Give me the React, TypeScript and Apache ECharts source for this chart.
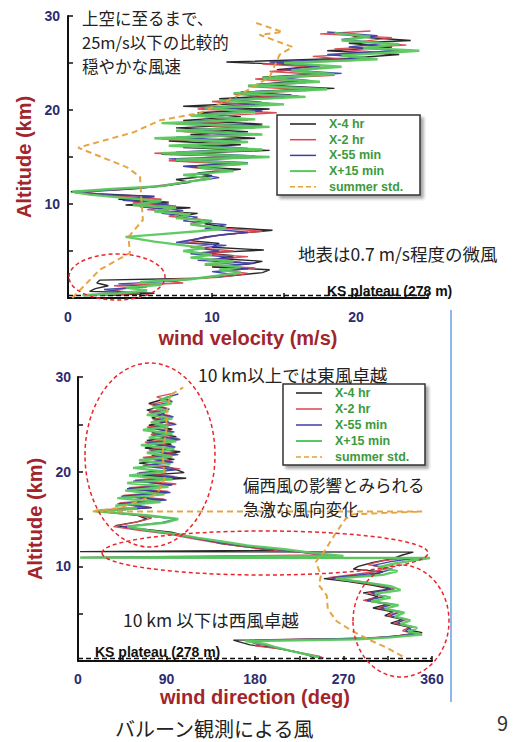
import React, { useEffect, useRef } from 'react';
import * as echarts from 'echarts';

// ---------- labels ----------
const seriesNames = ['X-4 hr', 'X-2 hr', 'X-55 min', 'X+15 min', 'summer std.'];
const seriesColors = ['#1e1e1e', '#d9434f', '#3c3fa8', '#58c95e', '#e3a13a'];
const velTickLabels = [0, 10, 20];
const dirTickLabels = [0, 90, 180, 270, 360];
const altTickLabels = [10, 20, 30];
const ksPlateauKm = 0.278;

// ---------- wind velocity [m/s, km] ----------
const velX4: number[][] = [[3.0,0.3],[6.0,0.5],[1.5,0.7],[1.9,1.0],[2.8,1.3],[2.0,1.6],[2.2,1.9],[9.0,2.1],[11.5,2.4],[13.5,2.7],[14.0,3.0],[10.0,3.3],[12.5,3.6],[13.5,3.9],[10.5,4.2],[11.5,4.5],[9.5,4.8],[13.6,5.1],[10.0,5.4],[10.5,5.8],[8.5,6.1],[9.5,6.5],[12.0,6.9],[14.2,7.2],[11.0,7.5],[9.5,7.9],[10.0,8.2],[7.5,8.6],[9.0,9.0],[6.0,9.3],[8.5,9.6],[4.0,9.9],[7.0,10.2],[3.5,10.5],[6.0,10.8],[2.0,11.1],[0.2,11.3],[4.0,11.6],[6.5,11.9],[8.5,12.3],[7.5,12.6],[10.0,13.0],[9.0,13.3],[12.0,13.7],[8.0,14.0],[11.5,14.3],[7.5,14.6],[13.5,15.0],[6.5,15.3],[14.0,15.7],[8.0,16.0],[12.0,16.3],[7.0,16.7],[13.0,17.0],[8.5,17.4],[12.5,17.7],[7.5,18.1],[13.5,18.5],[8.0,18.9],[12.0,19.3],[9.0,19.7],[14.0,20.1],[8.0,20.4],[13.5,20.8],[10.5,21.2],[15.5,21.6],[12.0,21.9],[18.5,22.3],[13.0,22.7],[16.0,23.1],[13.5,23.5],[18.0,23.9],[14.5,24.3],[17.5,24.7],[11.0,25.1],[19.5,25.5],[23.0,25.9],[18.0,26.3],[22.5,26.7],[19.5,27.1],[23.8,27.4],[20.0,27.8],[19.0,28.2]];
const velX2: number[][] = [[2.5,0.3],[5.0,0.5],[3.0,0.8],[4.5,1.1],[3.2,1.3],[8.0,1.6],[6.0,1.9],[10.5,2.2],[12.5,2.6],[11.0,2.9],[13.0,3.2],[9.5,3.5],[12.0,3.8],[10.0,4.1],[12.5,4.4],[9.0,4.7],[11.5,5.0],[8.5,5.4],[10.0,5.7],[8.0,6.0],[9.5,6.4],[11.0,6.8],[13.5,7.1],[10.0,7.5],[8.5,7.9],[9.5,8.3],[7.0,8.7],[8.0,9.1],[5.5,9.4],[7.5,9.8],[4.5,10.1],[6.5,10.5],[3.0,10.9],[0.5,11.2],[3.5,11.5],[6.0,11.9],[8.0,12.3],[9.5,12.7],[8.5,13.1],[11.0,13.5],[8.5,13.9],[12.0,14.2],[7.0,14.6],[12.5,15.0],[6.0,15.4],[13.0,15.7],[8.5,16.1],[11.5,16.5],[6.5,16.9],[12.0,17.3],[8.0,17.7],[13.0,18.1],[7.5,18.5],[12.5,18.9],[9.5,19.3],[14.5,19.7],[9.0,20.1],[13.0,20.5],[10.0,20.9],[15.0,21.3],[11.5,21.7],[17.0,22.1],[12.5,22.5],[16.5,22.9],[13.0,23.3],[18.5,23.7],[14.0,24.1],[18.0,24.5],[13.5,24.9],[20.0,25.3],[17.0,25.7],[22.0,26.1],[18.5,26.5],[23.5,26.9],[20.5,27.3],[22.5,27.7],[17.5,28.1],[21.0,28.4]];
const velX55: number[][] = [[1.5,0.3],[4.0,0.6],[2.5,0.9],[5.5,1.2],[3.5,1.5],[7.5,1.8],[9.5,2.2],[11.5,2.5],[10.0,2.8],[12.5,3.1],[10.5,3.4],[13.0,3.7],[9.0,4.0],[11.5,4.3],[8.5,4.7],[10.5,5.0],[9.0,5.3],[11.0,5.6],[7.5,5.9],[9.0,6.3],[10.5,6.7],[12.5,7.0],[9.5,7.4],[11.0,7.8],[8.0,8.2],[9.0,8.6],[6.5,9.0],[8.0,9.3],[5.0,9.7],[7.0,10.0],[3.8,10.4],[6.0,10.8],[2.5,11.0],[0.4,11.3],[4.5,11.6],[7.0,12.0],[8.5,12.4],[10.5,12.8],[9.0,13.2],[11.5,13.6],[8.0,14.0],[12.5,14.4],[7.0,14.8],[13.0,15.1],[7.5,15.5],[12.5,15.9],[9.0,16.3],[12.0,16.7],[7.5,17.1],[12.5,17.5],[8.5,17.9],[13.5,18.3],[8.0,18.7],[11.5,19.1],[9.0,19.5],[13.5,19.9],[10.0,20.3],[14.0,20.7],[11.0,21.1],[16.0,21.5],[12.0,21.9],[17.5,22.3],[13.0,22.7],[17.0,23.1],[14.5,23.5],[19.0,23.9],[15.0,24.3],[17.5,24.7],[14.0,25.1],[21.0,25.5],[18.0,25.9],[23.0,26.3],[19.5,26.7],[22.0,27.1],[19.0,27.5],[21.5,27.9],[18.0,28.3]];
const velX15: number[][] = [[1.0,0.3],[3.5,0.5],[5.5,0.8],[4.0,1.1],[6.5,1.4],[5.0,1.7],[8.5,2.0],[10.5,2.4],[12.0,2.7],[10.5,3.0],[12.0,3.3],[9.5,3.6],[11.5,3.9],[8.5,4.3],[10.0,4.6],[8.0,5.0],[9.5,5.3],[7.5,5.7],[6.0,6.0],[4.0,6.5],[6.5,6.8],[9.0,7.1],[11.0,7.4],[8.5,7.8],[10.0,8.2],[7.5,8.5],[8.5,8.9],[6.0,9.2],[7.5,9.6],[4.5,9.9],[6.5,10.3],[3.5,10.7],[1.5,11.0],[0.3,11.3],[3.0,11.6],[6.5,11.9],[8.0,12.3],[10.0,12.7],[8.0,13.1],[11.5,13.5],[9.0,13.9],[12.5,14.3],[7.5,14.7],[14.0,15.0],[6.5,15.4],[13.5,15.8],[7.0,16.2],[12.5,16.6],[6.0,17.0],[13.5,17.4],[7.5,17.8],[14.0,18.2],[6.5,18.6],[13.0,19.0],[8.5,19.4],[13.0,19.8],[9.5,20.2],[15.0,20.6],[10.5,21.0],[16.5,21.4],[11.5,21.8],[18.0,22.2],[12.5,22.6],[17.5,23.0],[13.5,23.4],[18.5,23.8],[15.5,24.2],[19.0,24.6],[15.0,25.0],[21.5,25.4],[19.0,25.8],[24.4,26.3],[20.5,26.6],[23.0,27.0],[19.0,27.4],[21.0,27.8],[18.5,28.2]];
const velSummer: number[][] = [[0.3,0],[2.2,3.0],[4.3,4.8],[4.2,6.5],[5.2,8.3],[5.1,10.4],[5.0,12.9],[4.1,13.9],[0.7,16.0],[4.5,17.6],[6.4,18.9],[9.2,19.7],[11.9,21.6],[14.0,23.5],[14.7,25.9],[15.6,26.7],[13.3,28.0],[14.9,28.3],[12.8,29.4]];

// ---------- wind direction [deg, km] ----------
const dirX4: number[][] = [[95,28.0],[85,27.6],[72,27.2],[85,26.9],[70,26.5],[88,26.1],[75,25.7],[92,25.3],[72,24.9],[96,24.5],[75,24.1],[100,23.7],[70,23.3],[95,22.9],[68,22.5],[104,22.1],[75,21.7],[98,21.3],[62,20.9],[92,20.5],[108,19.9],[65,19.6],[110,19.3],[60,19.0],[95,18.6],[50,18.2],[90,17.8],[48,17.4],[85,17.0],[42,16.6],[75,16.2],[20,15.8],[60,15.4],[70,15.0],[60,14.7],[38,14.3],[60,14.0],[95,13.6],[110,13.2],[130,12.8],[145,12.4],[175,12.0],[200,11.7],[2,11.55],[341,11.5],[330,11.2],[320,10.8],[300,10.4],[285,10.0],[280,9.7],[310,9.4],[295,9.0],[250,8.7],[275,8.4],[300,8.0],[318,7.6],[290,7.2],[305,6.8],[292,6.4],[315,6.0],[300,5.6],[320,5.2],[312,4.8],[330,4.4],[318,4.0],[335,3.6],[340,3.2],[350,3.0],[328,2.7],[300,2.4],[158,2.2],[165,2.0],[175,1.7],[200,1.4],[220,1.0],[235,0.6],[240,0.3]];
const dirX2: number[][] = [[98,28.3],[80,27.9],[92,27.5],[74,27.1],[90,26.7],[72,26.3],[94,25.9],[76,25.5],[98,25.1],[70,24.7],[95,24.3],[74,23.9],[102,23.5],[68,23.1],[97,22.7],[72,22.3],[100,21.9],[66,21.5],[95,21.1],[70,20.7],[104,20.3],[62,19.9],[98,19.5],[58,19.1],[100,18.7],[52,18.3],[92,17.9],[46,17.5],[88,17.1],[42,16.7],[70,16.3],[18,15.9],[55,15.5],[75,15.1],[60,14.7],[36,14.2],[62,13.8],[92,13.4],[112,13.0],[135,12.6],[160,12.2],[190,11.8],[225,11.5],[250,11.2],[3,10.95],[352,10.9],[328,10.8],[310,10.6],[295,10.2],[315,9.8],[300,9.4],[255,8.8],[280,8.4],[305,8.0],[322,7.6],[295,7.2],[310,6.8],[290,6.4],[318,6.0],[305,5.6],[325,5.2],[315,4.8],[335,4.4],[322,4.0],[338,3.6],[330,3.2],[342,2.9],[320,2.6],[290,2.4],[175,2.2],[185,1.9],[180,1.6],[205,1.3],[225,0.9],[245,0.5],[250,0.3]];
const dirX55: number[][] = [[102,28.2],[88,27.8],[96,27.4],[78,27.0],[93,26.6],[75,26.2],[97,25.8],[78,25.4],[100,25.0],[72,24.6],[98,24.2],[76,23.8],[104,23.4],[70,23.0],[99,22.6],[74,22.2],[102,21.8],[68,21.4],[97,21.0],[66,20.6],[100,20.2],[60,19.8],[102,19.4],[56,19.0],[96,18.6],[50,18.2],[94,17.8],[44,17.4],[90,17.0],[40,16.6],[74,16.2],[22,15.8],[65,15.4],[100,15.0],[85,14.6],[45,14.2],[70,13.8],[98,13.4],[118,13.0],[140,12.6],[165,12.2],[200,11.8],[235,11.4],[262,11.15],[3,10.92],[354,10.88],[335,10.75],[318,10.5],[300,10.1],[320,9.7],[305,9.3],[258,8.8],[285,8.4],[310,8.0],[318,7.6],[298,7.2],[312,6.8],[294,6.4],[320,6.0],[308,5.6],[328,5.2],[318,4.8],[332,4.4],[325,4.0],[340,3.6],[333,3.2],[345,2.9],[322,2.6],[295,2.4],[190,2.2],[178,1.9],[195,1.6],[210,1.2],[228,0.8],[240,0.5],[248,0.3]];
const dirX15: number[][] = [[96,28.0],[84,27.6],[95,27.2],[76,26.8],[92,26.4],[70,26.0],[96,25.6],[74,25.2],[92,24.8],[66,24.4],[96,24.0],[72,23.6],[100,23.2],[64,22.8],[98,22.4],[70,22.0],[96,21.6],[62,21.2],[94,20.8],[56,20.4],[90,20.0],[52,19.6],[96,19.2],[50,18.8],[92,18.4],[48,18.0],[88,17.6],[40,17.2],[84,16.8],[38,16.4],[60,16.1],[17,15.8],[70,15.4],[102,15.0],[88,14.6],[50,14.2],[72,13.8],[100,13.4],[122,13.0],[148,12.6],[172,12.2],[210,11.8],[240,11.4],[270,11.1],[2,10.92],[358,10.88],[340,10.6],[322,10.3],[305,9.9],[325,9.5],[310,9.1],[262,8.7],[292,8.3],[318,7.9],[328,7.5],[302,7.1],[318,6.7],[298,6.3],[326,5.9],[312,5.5],[332,5.1],[322,4.7],[338,4.3],[328,3.9],[345,3.5],[336,3.1],[350,2.8],[318,2.5],[285,2.3],[170,2.1],[190,1.8],[200,1.5],[215,1.1],[232,0.7],[245,0.4]];
const dirSummer: number[][] = [[330,0.5],[314,1.4],[297,2.2],[280,3.1],[263,4.2],[254,5.5],[253,6.9],[245,8.0],[247,9.0],[242,10.5],[250,11.5],[262,13.5],[272,15.0],[280,15.5],[350,15.8],[15,15.8],[43,16.2],[80,17.6],[88,19.2],[86,22.0],[90,24.5],[90,26.2],[94,28.1],[107,28.9]];

const velocitySets = [velX4, velX2, velX55, velX15, velSummer];
const directionSets = [dirX4, dirX2, dirX55, dirX15, dirSummer];

const FONT_JP = '"Noto Sans CJK JP", "Noto Sans", sans-serif';
const FONT_AX = '"Liberation Sans", Arial, sans-serif';
const NAVY = '#2d2c6e';
const AXRED = '#a1252b';

function makeSeries(sets: number[][][], g: number) {
  return sets.map((data, i) => {
    const s: any = {
      type: 'line',
      name: seriesNames[i],
      xAxisIndex: g,
      yAxisIndex: g,
      data,
      symbol: 'none',
      showSymbol: false,
      silent: true,
      z: 3 + i,
      lineStyle: {
        color: seriesColors[i],
        width: i === 3 ? 2.4 : i === 4 ? 2 : 1.4,
        type: i === 4 ? [6, 4] : 'solid',
        opacity: 0.95,
      },
      itemStyle: { color: seriesColors[i] },
    };
    if (i === 0) {
      s.markLine = {
        symbol: 'none',
        silent: true,
        label: { show: false },
        lineStyle: { color: '#111', type: [5, 3], width: 1.3 },
        data: [{ yAxis: ksPlateauKm }],
      };
    }
    return s;
  });
}

function axisCommon() {
  return {
    axisLine: { show: true, onZero: false, lineStyle: { color: '#111', width: 2 } },
    axisTick: { show: true, inside: true, length: 5, lineStyle: { color: '#111', width: 1.5 } },
    splitLine: { show: false },
  };
}

function legendGroup(x0: number, y0: number, w: number, h: number, rowGap: number) {
  const children: any[] = [
    {
      type: 'rect',
      shape: { x: x0, y: y0, width: w, height: h },
      style: {
        fill: '#fff', stroke: '#333', lineWidth: 1.5,
        shadowBlur: 3, shadowOffsetX: 3, shadowOffsetY: 3, shadowColor: 'rgba(0,0,0,0.35)',
      },
    },
  ];
  seriesNames.forEach((n, i) => {
    const y = y0 + 9 + i * rowGap;
    children.push({
      type: 'line',
      shape: { x1: x0 + 13, y1: y, x2: x0 + 39, y2: y },
      style: { stroke: seriesColors[i], lineWidth: i === 3 ? 2 : 1.5, lineDash: i === 4 ? [5, 3] : null },
    });
    children.push({
      type: 'text',
      x: x0 + 52,
      y,
      style: {
        text: n, fill: '#3d9a3d', fontSize: 12.5, fontWeight: 'bold', fontFamily: FONT_AX,
        textAlign: 'left', textVerticalAlign: 'middle', align: 'left', verticalAlign: 'middle',
      },
    });
  });
  return { type: 'group', children };
}

function jpText(text: string, x: number, y: number, size = 17.5, fill = '#222') {
  return {
    type: 'text', x, y, z: 50,
    style: {
      text, fill, fontSize: size, fontFamily: FONT_JP,
      textAlign: 'left', textVerticalAlign: 'middle', align: 'left', verticalAlign: 'middle',
    },
  };
}

function ksText(x: number, y: number) {
  return {
    type: 'text', x, y, z: 50,
    style: {
      text: 'KS plateau (278 m)', fill: '#111', fontSize: 14, fontWeight: 'bold', fontFamily: FONT_AX,
      textAlign: 'left', textVerticalAlign: 'middle', align: 'left', verticalAlign: 'middle',
    },
  };
}

function ellipse(cx: number, cy: number, rx: number, ry: number) {
  return {
    type: 'ellipse', z: 60,
    shape: { cx, cy, rx, ry },
    style: { fill: 'none', stroke: '#e8262b', lineWidth: 1.5, lineDash: [4, 3] },
  };
}

const option: any = {
  animation: false,
  backgroundColor: '#fff',
  grid: [
    { left: 68, top: 16, width: 360, height: 282, containLabel: false, outerBoundsMode: 'none' },
    { left: 78, top: 377, width: 354, height: 284, containLabel: false, outerBoundsMode: 'none' },
  ],
  xAxis: [
    {
      type: 'value', gridIndex: 0, min: 0, max: 25, interval: 5,
      ...axisCommon(),
      axisLabel: {
        margin: 12, color: NAVY, fontSize: 14, fontWeight: 'bold', fontFamily: FONT_AX,
        formatter: (v: number) => (velTickLabels.includes(v) ? String(v) : ''),
      },
      name: 'wind velocity (m/s)', nameLocation: 'middle', nameGap: 30,
      nameTextStyle: { color: AXRED, fontSize: 20, fontWeight: 'bold', fontFamily: FONT_AX, verticalAlign: 'top' },
    },
    {
      type: 'value', gridIndex: 1, min: 0, max: 360, interval: 45,
      ...axisCommon(),
      axisLabel: {
        margin: 11, color: NAVY, fontSize: 14, fontWeight: 'bold', fontFamily: FONT_AX,
        formatter: (v: number) => (dirTickLabels.includes(v) ? String(v) : ''),
      },
      name: 'wind direction (deg)', nameLocation: 'middle', nameGap: 22,
      nameTextStyle: { color: AXRED, fontSize: 20, fontWeight: 'bold', fontFamily: FONT_AX, verticalAlign: 'top' },
    },
  ],
  yAxis: [
    {
      type: 'value', gridIndex: 0, min: 0, max: 30, interval: 5,
      ...axisCommon(),
      axisLabel: {
        margin: 8, color: NAVY, fontSize: 14, fontWeight: 'bold', fontFamily: FONT_AX,
        formatter: (v: number) => (altTickLabels.includes(v) ? String(v) : ''),
      },
      name: 'Altitude (km)', nameLocation: 'middle', nameGap: 27, nameRotate: 90,
      nameTextStyle: { color: AXRED, fontSize: 20, fontWeight: 'bold', fontFamily: FONT_AX },
    },
    {
      type: 'value', gridIndex: 1, min: 0, max: 30, interval: 5,
      ...axisCommon(),
      axisLabel: {
        margin: 7, color: NAVY, fontSize: 14, fontWeight: 'bold', fontFamily: FONT_AX,
        formatter: (v: number) => (altTickLabels.includes(v) ? String(v) : ''),
      },
      name: 'Altitude (km)', nameLocation: 'middle', nameGap: 32, nameRotate: 90,
      nameTextStyle: { color: AXRED, fontSize: 20, fontWeight: 'bold', fontFamily: FONT_AX },
    },
  ],
  series: [...makeSeries(velocitySets, 0), ...makeSeries(directionSets, 1)],
  graphic: [
    jpText('上空に至るまで、', 82, 18, 16.5),
    jpText('25m/s以下の比較的', 82, 42, 16.5),
    jpText('穏やかな風速', 82, 66, 16.5),
    jpText('地表は0.7 m/s程度の微風', 298, 253),
    jpText('10 km以上では東風卓越', 198, 374),
    jpText('偏西風の影響とみられる', 243, 485, 16.5),
    jpText('急激な風向変化', 243, 509, 16.5),
    jpText('10 km 以下は西風卓越', 123, 619),
    jpText('バルーン観測による風', 115, 728, 20),
    jpText('9', 497, 722, 20, '#333'),
    ksText(327, 291),
    ksText(95, 652),
    legendGroup(277, 115, 143, 80, 15.7),
    legendGroup(283, 384, 142, 81, 16),
    ellipse(117, 277, 48, 23),
    ellipse(150, 455, 65, 92),
    ellipse(265, 553, 163, 22),
    ellipse(401, 621, 48, 56),
    { type: 'line', z: 50, shape: { x1: 451, y1: 310, x2: 451, y2: 702 }, style: { stroke: '#3f8ad8', lineWidth: 1.2 } },
  ],
};

export default function App() {
  const ref = useRef<HTMLDivElement>(null);
  useEffect(() => {
    const chart = echarts.init(ref.current!, null, { renderer: 'svg' });
    chart.setOption(option);
    return () => chart.dispose();
  }, []);
  return (
    <div
      ref={ref}
      style={{ position: 'absolute', left: 0, top: 0, width: 518, height: 742, background: '#fff' }}
    />
  );
}
